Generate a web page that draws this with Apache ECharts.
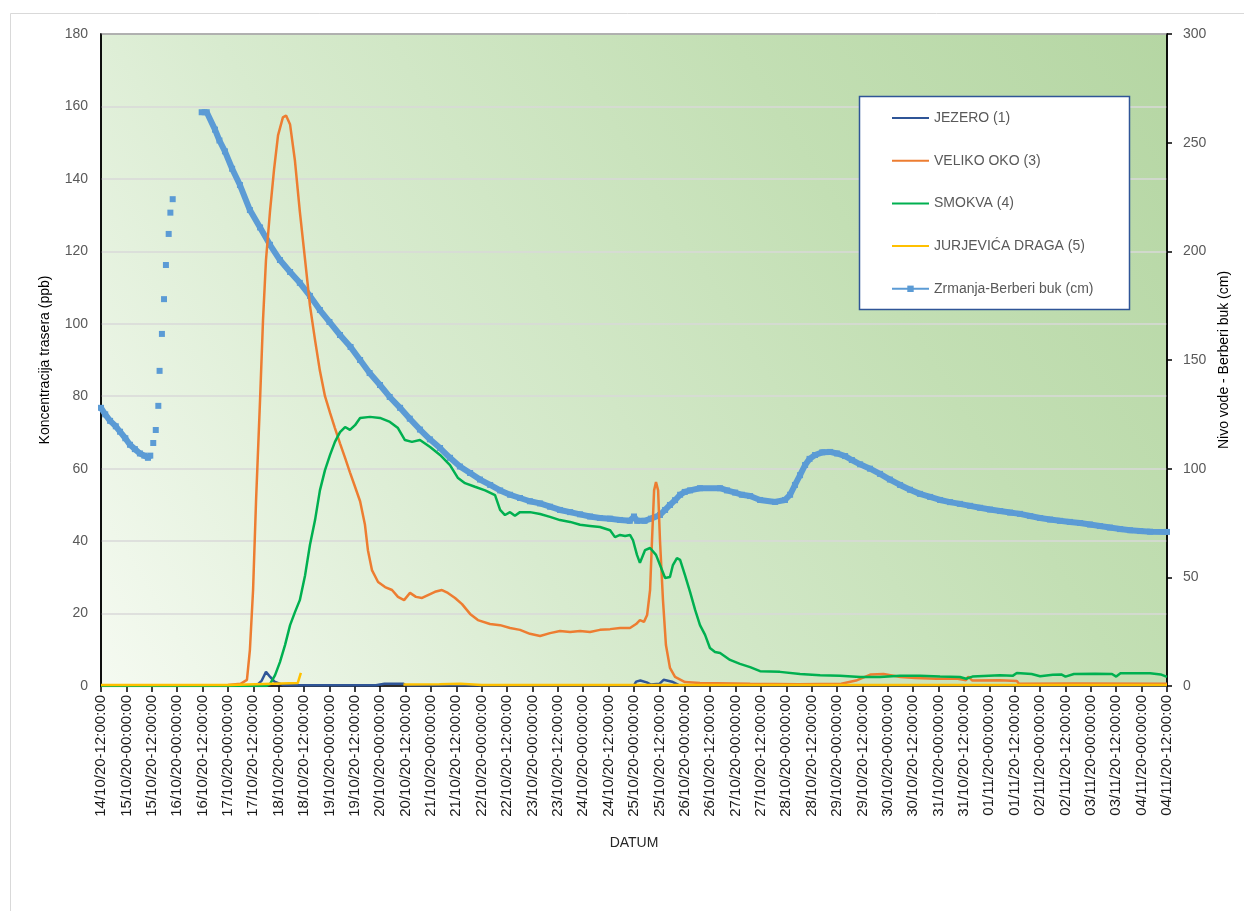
<!DOCTYPE html>
<html>
<head>
<meta charset="utf-8">
<script src="https://cdn.jsdelivr.net/npm/echarts@6/dist/echarts.min.js"></script>
<style>
  html, body { margin: 0; padding: 0; background: #fff; }
  #main { width: 1244px; height: 911px; }
</style>
</head>
<body>
<div id="main"></div>
<script>
// sati od 14/10/20 12:00, vrijednosti ocitane s grafa
var START = Date.UTC(2020, 9, 14, 12);

var jezero = [[0,0.1],[72,0.2],[74,0.4],[76,1.5],[78,3.9],[80,2.5],[82,1.2],[86,0.3],[95,0.2],[130,0.2],[134,0.6],[143,0.6],[144,0.2],
  [252,0.2],[253,1.2],[255,1.5],[258,1.0],[260,0.4],[264,0.6],[266,1.7],[270,1.2],[273,0.3],[504,0.2]];

var velikoOko = [[0,0.2],[60,0.3],[66,0.6],[69,1.7],[70.4,10],[71.9,26.5],[73.3,51],[75.2,79],[76.6,101],[78,117.6],[79.9,131],
  [81.8,142.5],[83.7,152],[86,157],[87.5,157.5],[89.4,155],[91.7,145],[94,131],[96.5,117.6],[98.8,105],[101.2,95.5],[103.5,87],
  [105.9,80],[108.3,75.4],[110.6,71.2],[113,67],[115.4,63],[117.7,59],[120.1,55],[122.5,51],[124.8,44.5],[126.2,37.5],[128.1,32],
  [131,28.7],[134.3,27.3],[137.6,26.5],[140.4,24.6],[143.3,23.7],[146.1,25.7],[148.9,24.6],[151.8,24.3],[154.6,25.1],[157.9,26],
  [161.2,26.5],[164,25.7],[167.4,24.3],[170.7,22.6],[174.5,19.9],[178.2,18.2],[183.9,17.1],[188.7,16.8],[193.4,16],[198.1,15.5],
  [202.8,14.4],[207.6,13.8],[212.3,14.6],[217,15.2],[221.8,14.9],[226.5,15.2],[231.2,14.9],[235.9,15.5],[240.7,15.7],[245.4,16],
  [250.1,16],[253,17.1],[254.8,18.2],[256.7,17.7],[258.2,19.6],[259.6,26.5],[260.5,40],[261.5,54],[262.4,56.3],[263.4,54],
  [264.3,40],[265.7,23.7],[267.1,11.3],[269,5],[271.4,2.5],[276.1,1.1],[283.2,0.8],[306.9,0.6],[330,0.5],[350,0.6],[357,1.5],
  [364,3.2],[370,3.3],[378,2.5],[385,2.2],[395,2],[405,2],[409,1.6],[410,2.6],[412,1.5],[425,1.6],[433,1.4],[434,0.6],[460,0.7],[504,0.6]];

var smokva = [[0,0],[78,0],[79.9,0.5],[82.3,3],[84.6,6.6],[87,11.3],[89.4,16.8],[91.7,20.4],[94,23.7],[96.5,30.6],[98.8,39],
  [101.2,45.8],[103.5,54],[105.9,59.6],[108.3,63.8],[110.6,67.4],[113,70.1],[115.4,71.5],[117.7,70.7],[120.1,72],[122.5,74],
  [127.2,74.3],[131.9,74],[136.6,72.9],[140.4,71.2],[143.7,67.9],[147,67.4],[150.8,67.9],[155.6,66],[160.3,63.8],[165,61],
  [168.8,57.4],[172.1,56],[176.8,55],[181.6,54],[186.3,52.7],[188.7,48.6],[191,47.2],[193.4,48],[195.7,47],[198.1,48],[202.8,48],
  [207.6,47.5],[212.3,46.7],[217,45.8],[221.8,45.3],[226.5,44.5],[231.2,44.2],[235.9,43.9],[240.7,43],[243,41.1],[245.4,41.7],
  [247.8,41.4],[250.1,41.7],[251.5,40.3],[253.4,36.2],[254.8,34],[257.2,37.5],[259.6,38.1],[262.4,36.2],[264.3,33.4],[266.7,29.8],
  [269,30.1],[270.4,33.4],[272.3,35.3],[273.8,34.8],[276.1,30.6],[278.5,26],[280.9,21],[283.2,16.8],[285.6,14.1],[287.9,10.5],
  [290.3,9.4],[292.7,9.1],[297.4,7.2],[302.1,6.1],[306.9,5.2],[311.6,4.1],[321,3.9],[330.5,3.3],[340,3],[349.4,2.8],[358.9,2.5],
  [368.3,2.5],[377.8,2.8],[387.2,2.8],[396.7,2.6],[406.1,2.5],[409,2.0],[412,2.6],[425,3],[431,2.8],[433,3.6],[440,3.3],
  [444,2.7],[450,3.1],[454,3.2],[456,2.6],[460,3.3],[470,3.4],[478,3.3],[480,2.6],[482,3.5],[496,3.5],[501,3.2],[504,2.5]];

var jurjevica = [[0,0.3],[61,0.3],[61.5,0.8],[93,0.8],[94.5,3.6],[95,null],[143,0.4],[160,0.5],[170,0.6],[180,0.3],[504,0.3]];

// Zrmanja-Berberi buk (cm)
var nivoPrije = [[0,128],[2,125],[4.3,122],[7,119.5],[9,117],[11.5,114],[13.7,111],[16,109],[18.4,107],[20.5,106],[22.2,105],[23.3,106]];
var nivoRast = [[24.7,111.8],[25.9,117.8],[27.1,128.9],[27.7,145],[28.8,162],[29.8,178],[30.7,193.7],[32,208],[32.8,217.8],[33.9,224]];
var nivoPoslije = [[47.6,264],[50,264],[53.9,256],[56,251],[58.6,246],[62,238],[65.7,230.5],[70.4,219],[75.2,211],[79.9,203],
  [84.6,196],[89.4,190.5],[94,185.5],[98.8,179.5],[103.5,173],[108,167.5],[113,161.5],[118,156],[122.5,150],[127,144],[131.9,138.5],
  [136.5,133],[141.4,128],[146,123],[150.8,118],[155.5,113.5],[160.3,109.5],[165,105],[169.7,101],[174.5,98],[179.2,95],[184,92.5],
  [188.7,90],[193.4,88],[198.1,86.5],[202.8,85],[207.6,84],[212.3,82.5],[217,81],[221.8,80],[226.5,79],[231.2,78],[235.9,77.3],
  [240.7,77],[245.4,76.4],[250,76],[252,78],[253.5,76],[257,76],[260,77],[264.3,78.7],[266.7,81],[269,83.3],[271.4,85.5],[273.8,88],
  [276,89.3],[278.5,90],[283.2,91],[292.7,91],[296,90],[299.8,89],[303,88],[306.9,87.4],[311.6,85.6],[318.7,84.7],[323.4,85.6],
  [325.8,88],[328.1,92.5],[330.5,97],[332.9,101.7],[335,104.5],[337.6,106.3],[341,107.5],[344.7,107.7],[348,107],[351.8,105.8],
  [355,104],[358.9,102],[363.6,100],[368.3,97.6],[373,95],[377.8,92.5],[382.5,90.3],[387.2,88.4],[392,87],[396.7,85.6],[401.4,84.6],
  [406.1,83.8],[410.9,82.9],[415.6,82],[420.3,81.2],[425.1,80.5],[429.8,79.8],[434.5,79.2],[439.3,78.2],[444,77.3],[448.7,76.6],
  [453.4,76],[458.1,75.5],[462.9,75],[467.6,74.3],[472.3,73.6],[477,72.9],[481.8,72.2],[486.5,71.7],[491.3,71.3],[496,71],[504,70.9]];

// spoji nivo s prekidima (null) da rastuci dio ostane samo tocke
var nivo = nivoPrije.slice();
nivoRast.forEach(function (p) {
  nivo.push([p[0] - 0.3, null]);
  nivo.push(p);
});
nivo.push([40, null]);
nivo = nivo.concat(nivoPoslije);

function pad(n) { return (n < 10 ? '0' : '') + n; }
function datum(h) {
  var d = new Date(START + h * 3600e3);
  return pad(d.getUTCDate()) + '/' + pad(d.getUTCMonth() + 1) + '/20-' + pad(d.getUTCHours()) + ':00:00';
}

var font = 'Liberation Sans';
var noMarker = { opacity: 0 };
var myChart = echarts.init(document.getElementById('main'));
var option = {
  backgroundColor: '#fff',
  animation: false,
  textStyle: { fontFamily: font },
  graphic: [
    { type: 'rect', z: -1, shape: { x: 10.5, y: 13.5, width: 1240, height: 905 },
      style: { fill: null, stroke: '#d9d9d9', lineWidth: 1 } },
    { type: 'rect', z: 10, shape: { x: 859.5, y: 96.5, width: 270, height: 213 },
      style: { fill: '#fff', stroke: '#2F5597', lineWidth: 1.5 } }
  ],
  grid: {
    left: 101, right: 77, top: 34, bottom: 225,
    show: true, borderColor: '#000', borderWidth: 1.5,
    backgroundColor: new echarts.graphic.LinearGradient(0, 1, 1, 0, [
      { offset: 0, color: '#f5faf1' },
      { offset: 0.35, color: '#d8ebcf' },
      { offset: 0.7, color: '#c3dfb4' },
      { offset: 1, color: '#b5d6a3' }
    ])
  },
  legend: {
    z: 11,
    orient: 'vertical',
    left: 891, top: 111, padding: 0,
    itemWidth: 37, itemHeight: 8, itemGap: 28.7,
    textStyle: { fontSize: 14, color: '#595959', fontFamily: font },
    data: [
      { name: 'JEZERO (1)', itemStyle: noMarker },
      { name: 'VELIKO OKO (3)', itemStyle: noMarker },
      { name: 'SMOKVA (4)', itemStyle: noMarker },
      { name: 'JURJEVIĆA DRAGA (5)', itemStyle: noMarker },
      { name: 'Zrmanja-Berberi buk (cm)' }
    ]
  },
  xAxis: {
    type: 'value', min: 0, max: 504, interval: 12,
    name: 'DATUM', nameLocation: 'middle', nameGap: 150,
    nameTextStyle: { fontSize: 14, color: '#262626', fontFamily: font },
    axisLine: { show: true, lineStyle: { color: '#000', width: 1.5 } },
    axisTick: { show: true, length: 6, lineStyle: { color: '#000', width: 1.5 } },
    splitLine: { show: false },
    axisLabel: { rotate: 90, margin: 9, fontSize: 15, color: '#1a1a1a', fontFamily: font, formatter: datum }
  },
  yAxis: [
    {
      type: 'value', min: 0, max: 180, interval: 20,
      name: 'Koncentracija trasera (ppb)', nameLocation: 'middle', nameGap: 49,
      nameTextStyle: { fontSize: 14, color: '#000', fontFamily: font },
      axisLine: { show: true, lineStyle: { color: '#000', width: 1.5 } },
      axisTick: { show: false },
      splitLine: { show: true, lineStyle: { color: '#d9d9d9', width: 1.5 } },
      axisLabel: { margin: 13, fontSize: 14, color: '#595959', fontFamily: font }
    },
    {
      type: 'value', min: 0, max: 300, interval: 50,
      name: 'Nivo vode - Berberi buk (cm)', nameLocation: 'middle', nameGap: 48,
      nameTextStyle: { fontSize: 14, color: '#000', fontFamily: font },
      axisLine: { show: true, lineStyle: { color: '#000', width: 1.5 } },
      axisTick: { show: true, length: 5, lineStyle: { color: '#000', width: 1.5 } },
      splitLine: { show: false },
      axisLabel: { margin: 16, fontSize: 14, color: '#595959', fontFamily: font }
    }
  ],
  series: [
    { name: 'Zrmanja-Berberi buk (cm)', type: 'line', yAxisIndex: 1, z: 1, data: nivo,
      symbol: 'rect', symbolSize: 6, showAllSymbol: true, connectNulls: false,
      itemStyle: { color: '#5B9BD5' }, lineStyle: { color: '#5B9BD5', width: 6 } },
    { name: 'JEZERO (1)', type: 'line', z: 2, data: jezero, symbol: 'none',
      itemStyle: { color: '#2F5597' }, lineStyle: { color: '#2F5597', width: 2.5 } },
    { name: 'VELIKO OKO (3)', type: 'line', z: 3, data: velikoOko, symbol: 'none',
      itemStyle: { color: '#ED7D31' }, lineStyle: { color: '#ED7D31', width: 2.5 } },
    { name: 'SMOKVA (4)', type: 'line', z: 4, data: smokva, symbol: 'none',
      itemStyle: { color: '#00B050' }, lineStyle: { color: '#00B050', width: 2.5 } },
    { name: 'JURJEVIĆA DRAGA (5)', type: 'line', z: 5, data: jurjevica, symbol: 'none', connectNulls: false,
      itemStyle: { color: '#FFC000' }, lineStyle: { color: '#FFC000', width: 2.5 } }
  ]
};
myChart.setOption(option);
</script>
</body>
</html>
